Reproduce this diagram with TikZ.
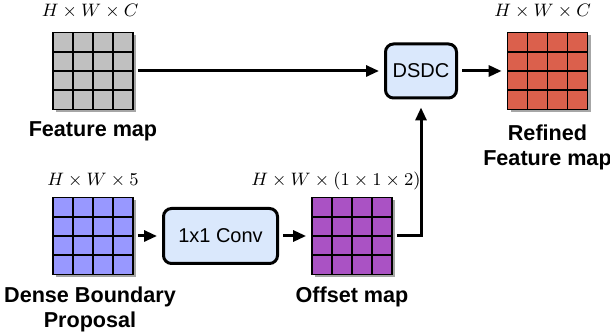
\documentclass[tikz,border=0pt]{standalone}
\usepackage{fontspec}
\setsansfont{Liberation Sans}
\usetikzlibrary{positioning,shadows,calc,arrows.meta}

\definecolor{featgray}{RGB}{192,192,192}
\definecolor{propblue}{RGB}{152,152,255}
\definecolor{offpurple}{RGB}{170,82,196}
\definecolor{refred}{RGB}{219,96,76}
\definecolor{opfill}{RGB}{218,232,252}

\tikzset{
    fmap/.style={draw=black, line width=0.9pt, fill=#1, inner sep=0pt,
        minimum width=40pt, minimum height=38.5pt,
        drop shadow={shadow xshift=1.5pt, shadow yshift=-1.5pt, fill=black, opacity=0.35},
        path picture={
            \foreach \k in {1,2,3}{
                \draw[line width=0.9pt] ($(path picture bounding box.north west)!{\k/4}!(path picture bounding box.north east)$)
                    -- ($(path picture bounding box.south west)!{\k/4}!(path picture bounding box.south east)$);
                \draw[line width=0.9pt] ($(path picture bounding box.north west)!{\k/4}!(path picture bounding box.south west)$)
                    -- ($(path picture bounding box.north east)!{\k/4}!(path picture bounding box.south east)$);
            }
        }},
    opbox/.style={draw=black, line width=1.5pt, fill=opfill, rounded corners=4pt,
        font=\sffamily\fontsize{10}{12}\selectfont},
    maplabel/.style={font=\sffamily\bfseries\fontsize{10.8}{12.5}\selectfont, align=center, inner sep=0pt},
    dimlabel/.style={font=\fontsize{8.8}{10}\selectfont, inner sep=0pt},
    link/.style={line width=1.5pt, -{Triangle[length=6.5pt,width=5.5pt]}, shorten <=2pt, shorten >=2.5pt}
}

\begin{document}
\begin{tikzpicture}[x=0.5pt, y=-0.5pt]
    \useasboundingbox (0,0) rectangle (610,335);

    % feature maps
    \node[fmap=featgray] (feat) at (93,71) {};
    \node[fmap=propblue] (dense) at (93,236) {};
    \node[fmap=offpurple] (offset) at (352,236) {};
    \node[fmap=refred] (refined) at (547.5,71) {};

    % operations
    \node[opbox, minimum width=57pt, minimum height=27.5pt] (conv) at (220.5,236) {1x1 Conv};
    \node[opbox, minimum width=35.5pt, minimum height=27pt] (dsdc) at (421,71) {DSDC};

    % sizes
    \node[dimlabel, anchor=south, xshift=-1.5pt] (featdim) at ([yshift=6.5pt]feat.north) {$H\times W\times C$};
    \node[dimlabel, anchor=south] (densedim) at ([yshift=4.5pt]dense.north) {$H\times W\times 5$};
    \node[dimlabel, anchor=south, xshift=-8pt] (offsetdim) at ([yshift=3.3pt]offset.north) {$H\times W\times(1\times1\times2)$};
    \node[dimlabel, anchor=south, xshift=-2.5pt] (refineddim) at ([yshift=6.5pt]refined.north) {$H\times W\times C$};

    % names
    \node[maplabel, below=5.5pt of feat] (featlbl) {Feature map};
    \node[maplabel, below=5.5pt of dense, xshift=-1.5pt] (denselbl) {Dense Boundary\\Proposal};
    \node[maplabel, below=5.5pt of offset] (offsetlbl) {Offset map};
    \node[maplabel, below=7pt of refined] (refinedlbl) {Refined\\Feature map};

    % connections
    \draw[link] (feat) -- (dsdc);
    \draw[link] (dense) -- (conv);
    \draw[link] (conv) -- (offset);
    \draw[link, shorten >=4pt] (offset.east) -| (dsdc.south);
    \draw[link] (dsdc) -- (refined);
\end{tikzpicture}
\end{document}
